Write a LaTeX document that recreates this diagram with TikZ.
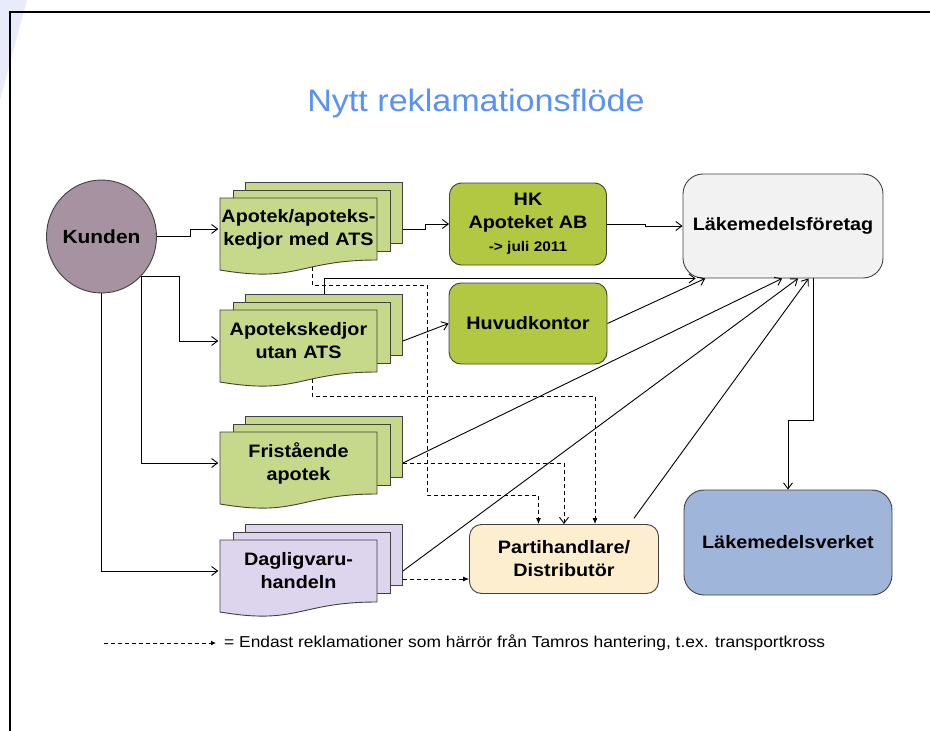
\documentclass[tikz,border=0pt]{standalone}
\usepackage{fontspec}
\setmainfont{Liberation Sans}[FakeStretch=1.1]
\usepackage{tikz}
\usetikzlibrary{shapes.geometric, arrows.meta, positioning, calc}
\definecolor{kundcolor}{RGB}{166,146,160}
\definecolor{docgreen}{RGB}{198,217,138}
\definecolor{docpurple}{RGB}{221,213,238}
\definecolor{boxgreen}{RGB}{178,199,66}
\definecolor{boxgray}{RGB}{242,242,242}
\definecolor{boxcream}{RGB}{252,238,206}
\definecolor{boxblue}{RGB}{160,181,218}
\definecolor{titleblue}{RGB}{88,146,244}
\definecolor{edgegray}{RGB}{64,64,64}
\definecolor{swoosh}{RGB}{232,236,250}
\tikzset{
  pageback/.style={rectangle, draw=edgegray, line width=0.9pt, inner sep=0pt,
    minimum width=157pt, minimum height=61pt, anchor=north west},
  pagefront/.style={draw=edgegray, line width=0.9pt},
  doctext/.style={minimum width=157pt, minimum height=62pt, inner sep=0pt,
    text width=160pt, align=center, font=\fontsize{18}{23}\selectfont\bfseries},
}
% stack of three pages: name, left, top, fill, text
\newcommand{\docstack}[5]{%
  \node[pageback, fill=#4] (#1-b) at (#2+25,#3-16) {};
  \node[pageback, fill=#4] (#1-m) at (#2+12.5,#3-8) {};
  \filldraw[pagefront, fill=#4] (#2,#3) -- (#2+157,#3) -- (#2+157,#3+62)
    .. controls (#2+78.5,#3+62) and (#2+78.5,#3+85.3) .. (#2,#3+72) -- cycle;
  \node[doctext] (#1) at (#2+78.5,#3+31) {#5};
  \coordinate (#1-foot) at (#2+92,#3+69);
}

\begin{document}
\begin{tikzpicture}[
  x=1pt,y=-1pt,
  box/.style={
    rectangle, rounded corners=12pt, draw=edgegray, line width=0.9pt,
    inner sep=0pt, align=center, font=\fontsize{18}{23}\selectfont\bfseries
  },
  conn/.style={-{Straight Barb[length=6pt,width=9pt]}, line width=0.9pt},
  dashconn/.style={-{Latex[length=6pt,width=5pt]}, line width=0.9pt, dash pattern=on 4pt off 3pt},
  dashopen/.style={dashconn, -{Straight Barb[length=6pt,width=9pt]}}
]
\useasboundingbox (0,0) rectangle (930,731);

% ---- slide background and frame ----
\fill[swoosh] (0,0) -- (27,0) -- (0,100) -- cycle;
\draw[line width=2.4pt] (10,731) -- (10,12) -- (930,12);

\node[font=\fontsize{31}{36}\selectfont, text=titleblue] (title) at (476,103) {Nytt reklamationsflöde};

% ---- customer and pharmacies ----
\node[ellipse, draw=edgegray, line width=0.9pt, fill=kundcolor, minimum width=107pt, minimum height=113pt,
      inner sep=0pt, font=\fontsize{19}{22}\selectfont\bfseries] (kunden) at (101.5,236.5) {Kunden};

\docstack{apats}{220}{198}{docgreen}{Apotek/apoteks-\\kedjor med ATS}
\docstack{aputs}{220}{310}{docgreen}{Apotekskedjor\\utan ATS}
\docstack{frist}{220}{432}{docgreen}{Fristående\\apotek}
\docstack{dagl}{220}{540}{docpurple}{Dagligvaru-\\handeln}

% ---- offices, companies, authority ----
\node[box, fill=boxgreen, minimum width=157pt, minimum height=82pt] (hk) at (528,224)
  {HK\\Apoteket AB\\{\fontsize{14}{18}\selectfont -> juli 2011}};
\node[box, fill=boxgreen, minimum width=158pt, minimum height=81pt] (hvk) at (528,323.5) {Huvudkontor};
\node[box, fill=boxgray, rounded corners=20pt, minimum width=200pt, minimum height=104pt] (lmf) at (783,226) {Läkemedelsföretag};
\node[box, fill=boxcream, minimum width=189pt, minimum height=69pt] (parti) at (564,559) {Partihandlare/\\Distributör};
\node[box, fill=boxblue, rounded corners=20pt, minimum width=208pt, minimum height=105pt] (lmv) at (788,542.5) {Läkemedelsverket};

% ---- connectors from the customer ----
\draw[conn] (kunden.east) -- ++(33,0) |- (apats.west);
\draw[conn] (kunden.-45) -- ++(38,0) |- (aputs.west);
\draw[conn] (kunden.-45) |- (frist.west);
\draw[conn] (kunden.south) |- (dagl.west);

% ---- to head offices and companies ----
\draw[conn] (apats-b.east |- apats.east) -- ++(23,0) |- (hk.west);
\draw[conn] (aputs-b.east |- aputs.east) -- (hvk.west);
\draw[conn] (hk.east) -- ++(38,0) |- (lmf.west);
\draw[conn] (aputs-b.north) |- (lmf.211);
\draw[conn] (hvk.east) -- (lmf.214);
\draw[conn] (frist-b.east |- frist.east) -- (lmf.269);
\draw[conn] (dagl-b.east |- dagl.east) -- (lmf.286);
\draw[conn, shorten <=7pt] (parti.28) -- (lmf.296);
\draw[conn] (lmf.300) -- ++(0,142) -| (lmv.north);

% ---- dashed: via the wholesaler ----
\draw[dashconn] (apats-foot) -- ++(0,18) -- ++(115,0) -- ++(0,210) -| ([xshift=-25.5pt]parti.north);
\draw[dashconn] (aputs-foot) -- ++(0,17) -| ([xshift=31pt]parti.north);
\draw[dashopen] (frist-b.east |- frist.east) -| (parti.north);
\draw[dashconn] ($(dagl-b.east |- dagl.east)+(0,8)$) -- ($(parti.west |- dagl.east)+(0,8)$);

% ---- legend ----
\coordinate (legstart) at (104,643);
\node[anchor=west, inner sep=8pt, font=\fontsize{15.8}{18}\selectfont] (legend) at (216,643)
  {= Endast reklamationer som härrör från Tamros hantering, t.ex. transportkross};
\draw[dashconn, -{Latex[length=5pt,width=5pt]}] (legstart) -- (legend.west);

\end{tikzpicture}
\end{document}
